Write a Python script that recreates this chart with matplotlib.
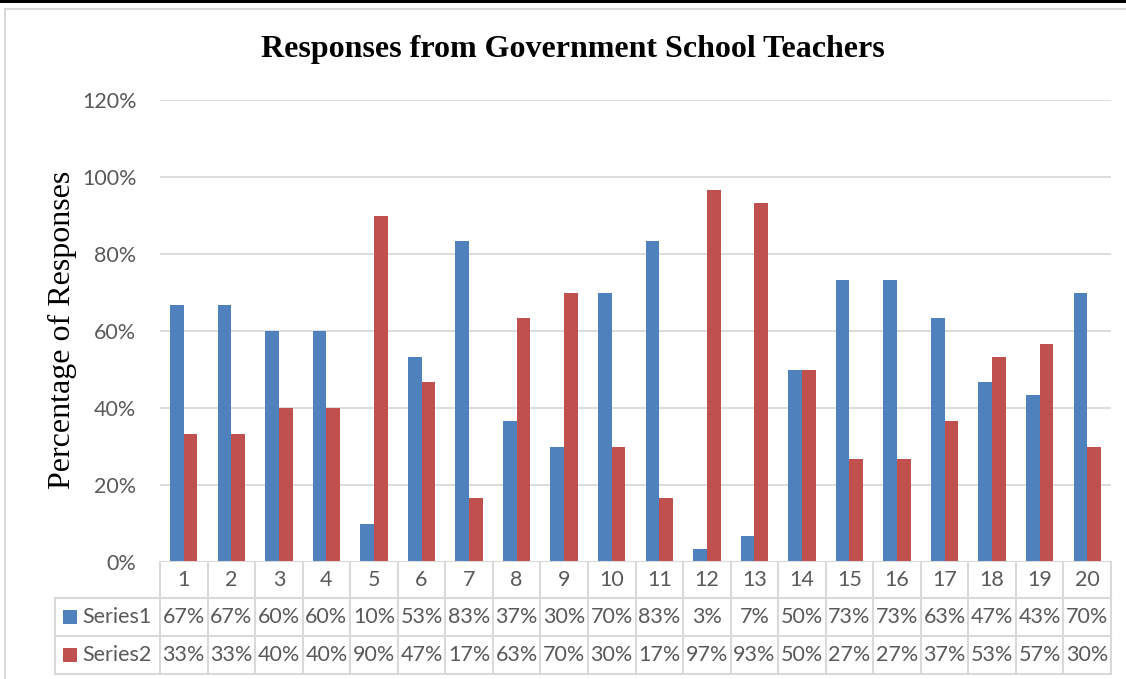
import matplotlib
matplotlib.use("Agg")
import matplotlib.pyplot as plt
from matplotlib.patches import Rectangle
from matplotlib.lines import Line2D
from matplotlib.transforms import blended_transform_factory

categories = [str(i) for i in range(1, 21)]
series1 = [66.7, 66.7, 60, 60, 10, 53.3, 83.3, 36.7, 30, 70,
           83.3, 3.3, 6.7, 50, 73.3, 73.3, 63.3, 46.7, 43.3, 70]
series2 = [33.3, 33.3, 40, 40, 90, 46.7, 16.7, 63.3, 70, 30,
           16.7, 96.7, 93.3, 50, 26.7, 26.7, 36.7, 53.3, 56.7, 30]
series_names = ["Series1", "Series2"]
yticks = [0, 20, 40, 60, 80, 100, 120]
title = "Responses from Government School Teachers"
ylabel = "Percentage of Responses"

W, H = 1126, 679
BLUE = "#4F81BD"
RED = "#C0504D"
GRID = "#D9D9D9"
TXT = "#595959"
SANS = ["Lato", "DejaVu Sans"]
SERIF = ["Liberation Serif", "DejaVu Serif"]

fig = plt.figure(figsize=(W / 100, H / 100), dpi=100)
fig.patch.set_facecolor("white")

def fx(px):
    return px / W

def fy(py):
    return 1 - py / H

# frame elements
fig.add_artist(Rectangle((0, fy(3)), 1, 3 / H, transform=fig.transFigure,
                         facecolor="black", edgecolor="none"))
fig.add_artist(Line2D([fx(5), 1], [fy(9), fy(9)], transform=fig.transFigure,
                      color=GRID, lw=1.5))
fig.add_artist(Line2D([fx(5), fx(5)], [fy(9), 0], transform=fig.transFigure,
                      color=GRID, lw=1.5))

L, R, T, B = 160, 1111, 100, 562
ax = fig.add_axes([fx(L), fy(B), (R - L) / W, (B - T) / H])
n = len(categories)
ax.set_xlim(-0.5, n - 0.5)
ax.set_ylim(0, 120)

w = 0.288
xs = list(range(n))
ax.bar([x - w / 2 for x in xs], series1, width=w, color=BLUE, zorder=3)
ax.bar([x + w / 2 for x in xs], series2, width=w, color=RED, zorder=3)

ax.set_yticks(yticks)
ax.set_yticklabels([f"{v}%" for v in yticks], fontfamily=SANS, fontsize=15.5, color=TXT)
ax.set_xticks([])
ax.tick_params(axis="y", length=0, pad=17)
ax.grid(axis="y", color=GRID, lw=1.3, zorder=0)
for s in ax.spines.values():
    s.set_visible(False)
ax.axhline(0, color=GRID, lw=1.5, zorder=4)

# data table
tr = blended_transform_factory(ax.transData, fig.transFigure)
y_head_top, y_r1, y_r2, y_bot = 562, 598, 636, 674
for i in range(n + 1):
    ax.add_line(Line2D([i - 0.5, i - 0.5], [fy(y_head_top), fy(y_bot)], transform=tr,
                       color=GRID, lw=1.5, clip_on=False))
for yy in (y_r1, y_r2, y_bot):
    fig.add_artist(Line2D([fx(55), fx(R)], [fy(yy), fy(yy)], transform=fig.transFigure,
                          color=GRID, lw=1.5))
fig.add_artist(Line2D([fx(55), fx(55)], [fy(y_r1), fy(y_bot)], transform=fig.transFigure,
                      color=GRID, lw=1.5))

FS = 15.5
for i, c in enumerate(categories):
    ax.text(i, fy((y_head_top + y_r1) / 2), c, transform=tr, ha="center", va="center",
            fontfamily=SANS, fontsize=FS, color=TXT)
    ax.text(i, fy((y_r1 + y_r2) / 2), f"{round(series1[i])}%", transform=tr,
            ha="center", va="center", fontfamily=SANS, fontsize=FS, color=TXT)
    ax.text(i, fy((y_r2 + y_bot) / 2), f"{round(series2[i])}%", transform=tr,
            ha="center", va="center", fontfamily=SANS, fontsize=FS, color=TXT)

for name, col, (ya, yb) in zip(series_names, [BLUE, RED], [(y_r1, y_r2), (y_r2, y_bot)]):
    yc = (ya + yb) / 2
    fig.add_artist(Rectangle((fx(63), fy(yc + 7)), 14 / W, 14 / H, transform=fig.transFigure,
                             facecolor=col, edgecolor="none"))
    fig.text(fx(82), fy(yc), name, ha="left", va="center", fontfamily=SANS,
             fontsize=FS, color=TXT)

fig.text(fx(573), fy(49), title, ha="center", va="center", fontfamily=SERIF,
         fontweight="bold", fontsize=23, color="black")
fig.text(fx(62), fy(330), ylabel, ha="center", va="center", rotation=90,
         fontfamily=SERIF, fontsize=23, color="black")

fig.savefig("out.png", dpi=100, facecolor="white")
